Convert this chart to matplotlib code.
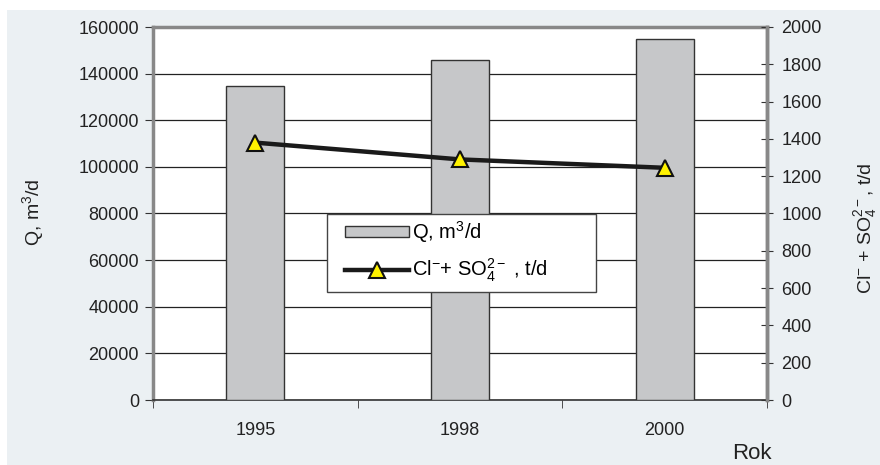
import matplotlib
matplotlib.use("Agg")
import matplotlib.pyplot as plt
from matplotlib.patches import Rectangle
import numpy as np

plt.rcParams['font.family'] = ['Liberation Sans', 'DejaVu Sans']
plt.rcParams['mathtext.fontset'] = 'custom'
plt.rcParams['mathtext.rm'] = 'Liberation Sans'
plt.rcParams['mathtext.it'] = 'Liberation Sans'

years = ['1995', '1998', '2000']
q_values = [134500, 146000, 155000]
load_values = [1380, 1290, 1245]
left_ticks = [0, 20000, 40000, 60000, 80000, 100000, 120000, 140000, 160000]
right_ticks = [0, 200, 400, 600, 800, 1000, 1200, 1400, 1600, 1800, 2000]

fig = plt.figure(figsize=(8.8, 4.65), dpi=100, facecolor='white')
bg = Rectangle((7/880, 0), 1 - 7/880, 1 - 10/465, transform=fig.transFigure,
               facecolor='#EBF0F3', edgecolor='none', zorder=-10)
fig.patches.append(bg)

TICK_FS = 13
ax = fig.add_axes([153/880, 1 - 400/465, 614/880, 373/465])
ax.set_facecolor('white')
x = np.arange(len(years))
bars = ax.bar(x, q_values, width=0.285, color='#C6C7C9', edgecolor='#333333',
              linewidth=1.0, zorder=3, label='Q, m$^3$/d')
ax.set_xlim(-0.5, 2.5)
ax.set_ylim(0, 160000)
ax.set_yticks(left_ticks)
ax.set_yticklabels([str(v) for v in left_ticks])
ax.yaxis.grid(True, color='#222222', linewidth=0.9, zorder=0)
ax.set_axisbelow(True)
ax.set_xticks(x)
ax.set_xticklabels(years)
ax.tick_params(axis='x', length=0, pad=16, labelsize=TICK_FS, labelcolor='#222222')
ax.set_xticks([-0.5, 0.5, 1.5, 2.5], minor=True)
ax.tick_params(axis='x', which='minor', length=6, direction='out', color='#333333')
ax.tick_params(axis='y', length=6, direction='out', color='#333333',
               labelsize=TICK_FS, pad=4, labelcolor='#222222')
for s in ['left', 'top', 'right']:
    ax.spines[s].set_color('#888888')
    ax.spines[s].set_linewidth(2.5)
ax.spines['bottom'].set_color('#333333')
ax.spines['bottom'].set_linewidth(1.2)

ax2 = ax.twinx()
line, = ax2.plot(x, load_values, color='#1a1a1a', linewidth=3.2, marker='^',
                 markersize=11, markerfacecolor='#FFF200', markeredgecolor='#111111',
                 markeredgewidth=1.5, zorder=5,
                 label=r'Cl$^{-}$+ SO$_4^{2-}$ , t/d')
ax2.set_ylim(0, 2000)
ax2.set_yticks(right_ticks)
ax2.set_yticklabels([str(v) for v in right_ticks])
ax2.tick_params(axis='y', length=9, direction='inout', color='#333333',
                labelsize=TICK_FS, pad=6, labelcolor='#222222')
for s in ax2.spines.values():
    s.set_visible(False)
ax2.spines['right'].set_visible(True)
ax2.spines['right'].set_color('#888888')
ax2.spines['right'].set_linewidth(2.5)

# legend frame drawn as a box, legend entries placed inside
def ax_x(px):
    return (px - 153) / 614

def ax_y(py):
    return (400 - py) / 373

frame = Rectangle((ax_x(327), ax_y(292)), ax_x(596) - ax_x(327), ax_y(214) - ax_y(292),
                  transform=ax2.transAxes, facecolor='white', edgecolor='#444444',
                  linewidth=1.0, zorder=9)
ax2.add_patch(frame)
leg = ax2.legend(handles=[bars, line], loc='upper left',
                 bbox_to_anchor=(ax_x(345), ax_y(219)),
                 fontsize=14.5, frameon=False,
                 handlelength=3.2, handleheight=0.5,
                 borderpad=0, labelspacing=0.6, handletextpad=0.15,
                 borderaxespad=0)
leg.set_zorder(10)

fig.text(33/880, 1 - 212/465, 'Q, m$^3$/d', fontsize=14, rotation=90,
         ha='center', va='center', color='#222222')
fig.text(866/880, 1 - 228/465, r'Cl$^{-}$ + SO$_4^{2-}$, t/d', fontsize=14,
         rotation=90, ha='center', va='center', color='#222222')
fig.text(752/880, 1 - 453/465, 'Rok', fontsize=16, ha='center', va='center',
         color='#222222')

fig.savefig('out.png', dpi=100)
